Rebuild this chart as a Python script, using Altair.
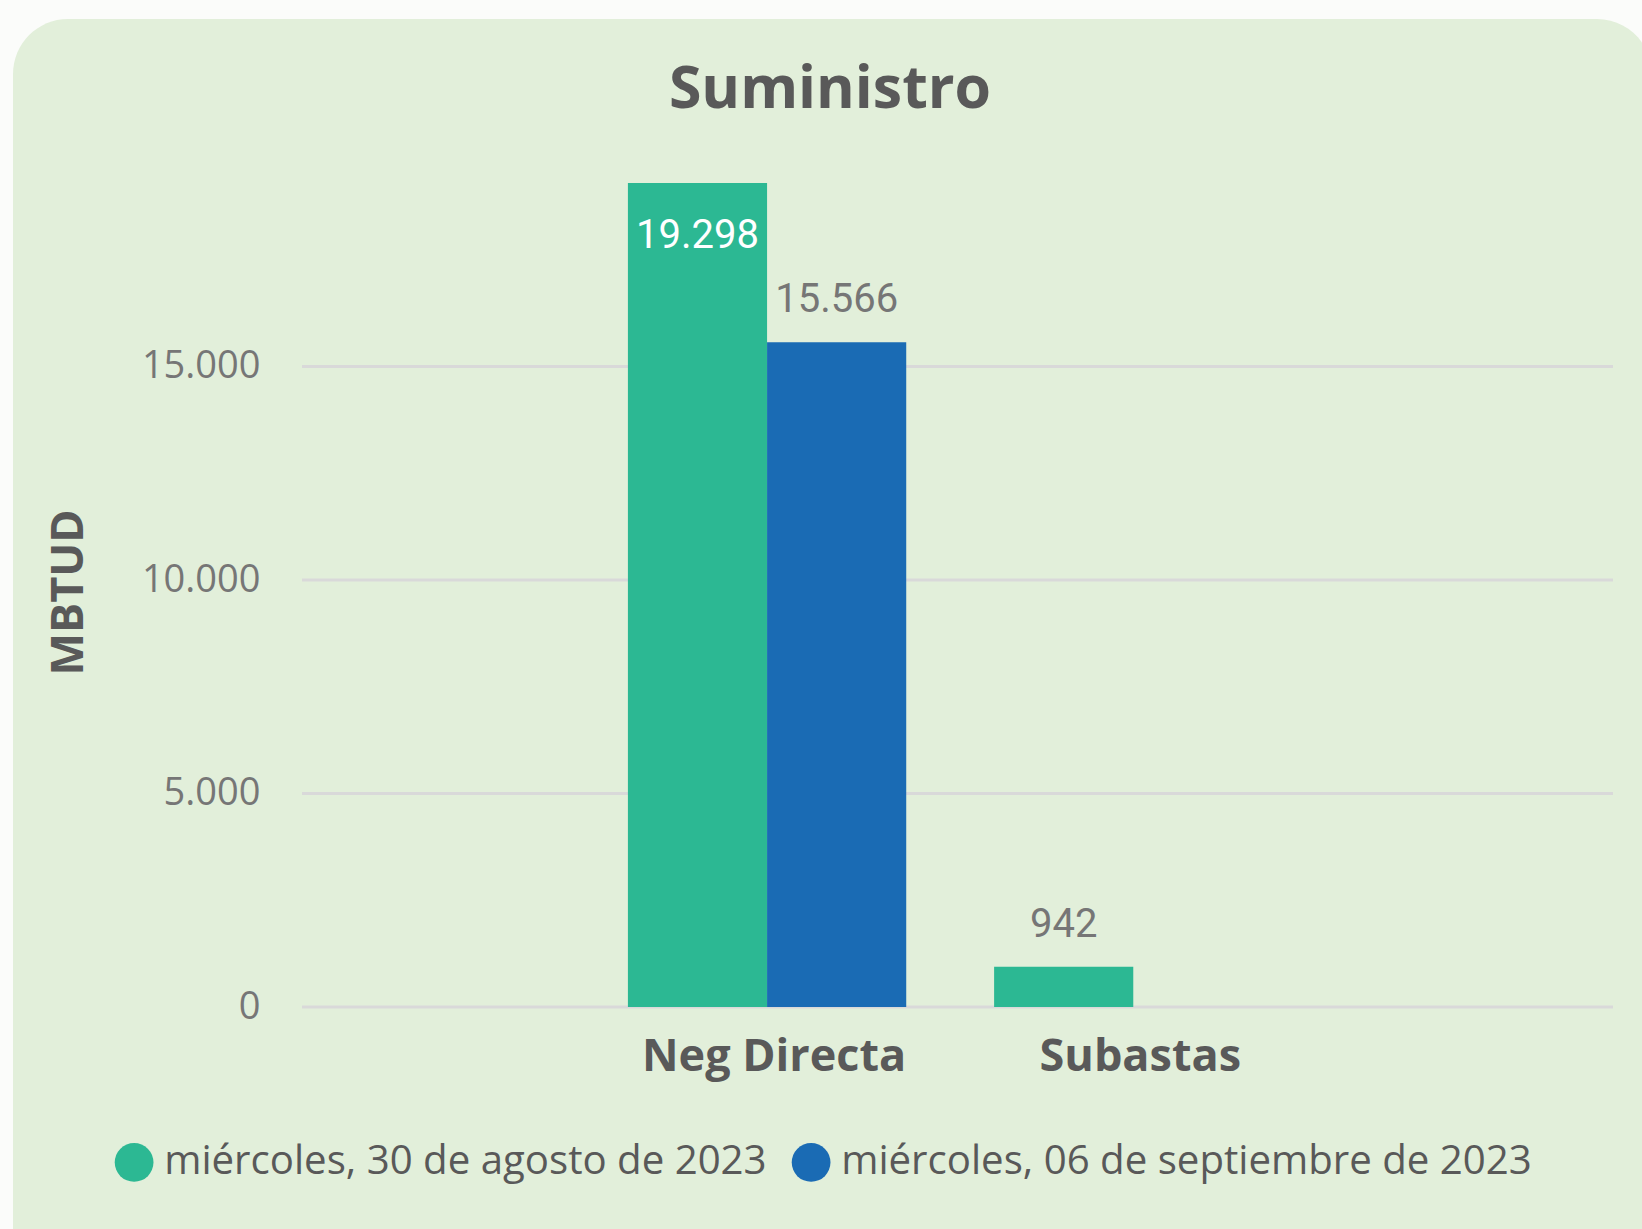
import altair as alt
import pandas as pd

categorias = ["Neg Directa", "Subastas"]
fechas = ["miércoles, 30 de agosto de 2023", "miércoles, 06 de septiembre de 2023"]
valores_ago = [19298, 942]
valores_sep = [15566, None]
colores = ["#2CB893", "#1A6BB4"]
ticks_y = [0, 5000, 10000, 15000]
titulo = "Suministro"

rows = []
for fecha, vals in zip(fechas, [valores_ago, valores_sep]):
    for cat, v in zip(categorias, vals):
        if v is not None:
            rows.append({"categoria": cat, "fecha": fecha, "valor": v})
df = pd.DataFrame(rows)
df_ticks = pd.DataFrame({"valor": ticks_y})

W, H = 1311, 854
GRAY_DARK = "#595959"
GRAY_LABEL = "#767676"

x_enc = alt.X(
    "categoria:N",
    sort=categorias,
    scale=alt.Scale(domain=categorias, paddingInner=0.24, paddingOuter=0.91, align=0.489),
    axis=alt.Axis(
        title=None, labelAngle=0, domain=False, ticks=False, tickSize=0, grid=False,
        labelFont="Open Sans", labelFontSize=45, labelFontWeight="bold",
        labelColor=GRAY_DARK, labelPadding=27, labelLimit=600, labelOffset=7, zindex=1,
    ),
)
xoff_enc = alt.XOffset(
    "fecha:N", sort=fechas,
    scale=alt.Scale(domain=fechas, paddingInner=0, paddingOuter=0),
)
y_scale = alt.Scale(domain=[0, 20000], nice=False)
y_enc = alt.Y(
    "valor:Q",
    scale=y_scale,
    axis=alt.Axis(
        values=ticks_y, title="MBTUD", domain=False, ticks=False, tickSize=0,
        grid=False, zindex=1,
        labelFont="Open Sans", labelFontSize=38, labelColor=GRAY_LABEL,
        labelPadding=42, labelExpr="replace(datum.label, ',', '.')",
        titleFont="Open Sans", titleFontSize=45, titleFontWeight="bold",
        titleColor=GRAY_DARK, titleAngle=270, titleX=-234, titleY=439,
        titleAlign="center", titleBaseline="middle",
    ),
)

fondo = alt.Chart(alt.Data(values=[{"k": 1}])).mark_rect(
    color="#E2EFDA", cornerRadius=55
).encode(
    x=alt.value(-289), x2=alt.value(1350), y=alt.value(-134), y2=alt.value(1130)
)

rejilla = alt.Chart(df_ticks).mark_rule(color="#D9D9D9", strokeWidth=3).encode(
    y=alt.Y("valor:Q", scale=y_scale),
    x=alt.value(0),
    x2=alt.value(W),
)

encabezado = alt.Chart(alt.Data(values=[{"t": titulo}])).mark_text(
    font="Open Sans", fontSize=59, fontWeight="bold", color=GRAY_DARK,
    align="center", baseline="alphabetic",
).encode(
    text="t:N", x=alt.value(528), y=alt.value(-45)
)

bars = alt.Chart(df).mark_bar().encode(
    x=x_enc,
    xOffset=xoff_enc,
    y=y_enc,
    color=alt.Color(
        "fecha:N",
        sort=fechas,
        scale=alt.Scale(domain=fechas, range=colores),
        legend=alt.Legend(
            title=None, orient="none", direction="horizontal",
            legendX=-188, legendY=989, padding=0,
            symbolType="circle", symbolSize=1500, symbolStrokeWidth=0,
            symbolOpacity=1, labelFont="Open Sans", labelFontSize=40.2,
            labelColor=GRAY_DARK, labelLimit=0, labelOffset=10,
            columnPadding=24,
        ),
    ),
)

base = alt.Chart(df).transform_calculate(
    etiqueta="replace(format(datum.valor, ','), ',', '.')"
).transform_joinaggregate(
    maximo="max(valor)"
).encode(
    x=alt.X("categoria:N", sort=categorias),
    xOffset=alt.XOffset("fecha:N", sort=fechas),
    y=alt.Y("valor:Q"),
    text=alt.Text("etiqueta:N"),
)

fuera = base.transform_filter("datum.valor < datum.maximo").mark_text(
    baseline="alphabetic", dy=-30, color=GRAY_LABEL, font="Roboto", fontSize=40
)
dentro = base.transform_filter("datum.valor == datum.maximo").mark_text(
    baseline="alphabetic", dy=65, color="white", font="Roboto", fontSize=40
)

chart = alt.layer(fondo, rejilla, encabezado, bars, fuera, dentro).properties(
    width=W,
    height=H,
    autosize=alt.AutoSizeParams(type="none"),
    padding={"left": 302, "top": 153, "right": 29, "bottom": 222},
    background="#FBFCFA",
).configure_view(strokeWidth=0)

chart.save("out.html", embed_options={"renderer": "svg", "actions": False})
